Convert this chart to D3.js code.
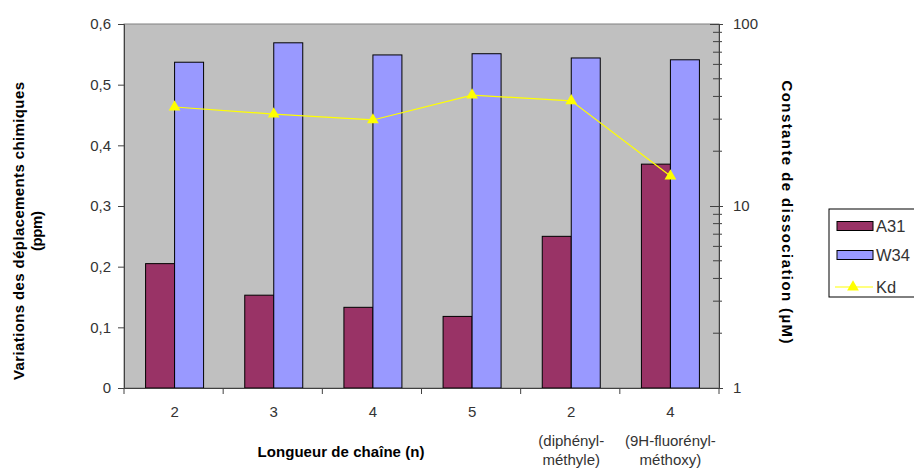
<!doctype html>
<html>
<head>
<meta charset="utf-8">
<script src="https://d3js.org/d3.v7.min.js"></script>
<style>
  body { margin: 0; background: #fff; }
  text { font-family: "Liberation Sans", Arial, sans-serif; }
</style>
</head>
<body>
<svg width="914" height="468" class="chart"></svg>
<script>
// data
var categories = ["2", "3", "4", "5", "2b", "4b"];
var tickLines = [["2"], ["3"], ["4"], ["5"], ["2", "(diphényl-", "méthyle)"], ["4", "(9H-fluorényl-", "méthoxy)"]];
var a31 = [0.205, 0.153, 0.133, 0.118, 0.250, 0.369];
var w34 = [0.537, 0.569, 0.549, 0.551, 0.544, 0.541];
var kd = [35.0, 32.0, 29.7, 40.7, 37.8, 14.6];
var leftTicks = [0, 0.1, 0.2, 0.3, 0.4, 0.5, 0.6];
var rightTicks = [1, 10, 100];

var svg = d3.select(".chart"),
    pLeft = 124, pRight = 719, pTop = 24, pBottom = 388;

var x = d3.scaleBand().domain(categories).range([pLeft, pRight]);
var y = d3.scaleLinear().domain([0, 0.6]).range([pBottom, pTop]);
var yr = d3.scaleLog().domain([1, 100]).range([pBottom, pTop]);
var bw = x.bandwidth() / 3.42;
function mid(i) { return x(categories[i]) + x.bandwidth() / 2 + 1; }

// plot area
svg.append("rect")
   .attr("x", pLeft).attr("y", pTop)
   .attr("width", pRight - pLeft).attr("height", pBottom - pTop)
   .attr("fill", "#c0c0c0")
   .attr("stroke", "#808080").attr("stroke-width", 1);

// bars
svg.selectAll(".a31").data(a31).enter().append("rect")
   .attr("class", "a31")
   .attr("x", function(d, i) { return mid(i) - bw; })
   .attr("y", function(d) { return y(d); })
   .attr("width", bw)
   .attr("height", function(d) { return pBottom - y(d); })
   .attr("fill", "#993366").attr("stroke", "#000").attr("stroke-width", 1);

svg.selectAll(".w34").data(w34).enter().append("rect")
   .attr("class", "w34")
   .attr("x", function(d, i) { return mid(i); })
   .attr("y", function(d) { return y(d); })
   .attr("width", bw)
   .attr("height", function(d) { return pBottom - y(d); })
   .attr("fill", "#9999ff").attr("stroke", "#000").attr("stroke-width", 1);

// Kd line
var line = d3.line()
    .x(function(d, i) { return mid(i); })
    .y(function(d) { return yr(d); });
svg.append("path").datum(kd)
   .attr("d", line).attr("fill", "none")
   .attr("stroke", "#ffff00").attr("stroke-width", 1.2);
var tri = d3.symbol().type(d3.symbolTriangle).size(60);
svg.selectAll(".kdpt").data(kd).enter().append("path")
   .attr("transform", function(d, i) { return "translate(" + mid(i) + "," + yr(d) + ")"; })
   .attr("d", tri).attr("fill", "#ffff00");

// left axis
var gl = svg.append("g").attr("transform", "translate(" + pLeft + ",0)")
    .call(d3.axisLeft(y).tickValues(leftTicks).tickSize(6).tickPadding(7)
        .tickFormat(function(d) { return d === 0 ? "0" : d3.format(".1f")(d).replace(".", ","); }));
gl.select(".domain").attr("stroke", "#404040");
gl.selectAll("line").attr("stroke", "#404040");
gl.selectAll("text").attr("font-size", 15).attr("fill", "#333")
  .style("font-family", "'Liberation Sans', Arial, sans-serif");

// right axis (log)
var minor = [];
[1, 10].forEach(function(b) { for (var k = 2; k <= 9; k++) minor.push(b * k); });
var gr = svg.append("g").attr("transform", "translate(" + pRight + ",0)")
    .call(d3.axisRight(yr).tickValues(rightTicks).tickSize(4).tickPadding(10)
        .tickFormat(d3.format("d")));
gr.select(".domain").attr("stroke", "#404040");
gr.selectAll(".tick line").attr("x1", -9).attr("stroke", "#404040");
gr.selectAll("text").attr("font-size", 15).attr("fill", "#333")
  .style("font-family", "'Liberation Sans', Arial, sans-serif");
gr.selectAll(".minor").data(minor).enter().append("line")
  .attr("x1", -6).attr("x2", 3)
  .attr("y1", function(d) { return yr(d); }).attr("y2", function(d) { return yr(d); })
  .attr("stroke", "#404040");

// x axis
var gx = svg.append("g").attr("transform", "translate(0," + pBottom + ")")
    .call(d3.axisBottom(x).tickSize(0).tickFormat(""));
gx.select(".domain").attr("stroke", "#404040");
gx.selectAll(".sep").data(d3.range(categories.length + 1)).enter().append("line")
  .attr("x1", function(d) { return pLeft + d * x.step(); })
  .attr("x2", function(d) { return pLeft + d * x.step(); })
  .attr("y1", 0).attr("y2", 6).attr("stroke", "#404040");
tickLines.forEach(function(lines, i) {
    var cx = mid(i);
    var t = svg.append("text")
       .attr("x", cx).attr("y", 417)
       .attr("text-anchor", "middle")
       .attr("font-size", 15).attr("fill", "#333");
    lines.forEach(function(s, j) {
        t.append("tspan").attr("x", cx)
         .attr("dy", j === 0 ? 0 : (j === 1 ? 29 : 19)).text(s);
    });
});

// axis titles
function title(tr, s, len) {
    svg.append("text")
       .attr("transform", tr)
       .attr("text-anchor", "middle").attr("font-size", 15).attr("font-weight", "bold")
       .attr("textLength", len).attr("lengthAdjust", "spacing")
       .text(s);
}
title("translate(24,231) rotate(-90)", "Variations des déplacements chimiques", 298);
title("translate(42,231) rotate(-90)", "(ppm)", 40);
title("translate(782,212) rotate(90)", "Constante de dissociation (µM)", 263);
title("translate(341,457)", "Longueur de chaîne (n)", 167);

// legend
var lg = svg.append("g").attr("transform", "translate(829,209)");
lg.append("rect").attr("width", 100).attr("height", 88)
  .attr("fill", "#fff").attr("stroke", "#000");
var names = ["A31", "W34", "Kd"];
var fills = ["#993366", "#9999ff", null];
var rowY = [17, 46, 78];
names.forEach(function(n, i) {
    var cy = rowY[i];
    if (fills[i]) {
        lg.append("rect").attr("x", 8).attr("y", cy - 4.5).attr("width", 36).attr("height", 9)
          .attr("fill", fills[i]).attr("stroke", "#000");
    } else {
        lg.append("line").attr("x1", 6).attr("x2", 44).attr("y1", cy).attr("y2", cy)
          .attr("stroke", "#ffff00").attr("stroke-width", 1.2);
        lg.append("path").attr("transform", "translate(24," + cy + ")")
          .attr("d", tri).attr("fill", "#ffff00");
    }
    lg.append("text").attr("x", 47).attr("y", cy + 6)
      .attr("font-size", 16.5).attr("fill", "#333").text(n);
});
</script>
</body>
</html>
